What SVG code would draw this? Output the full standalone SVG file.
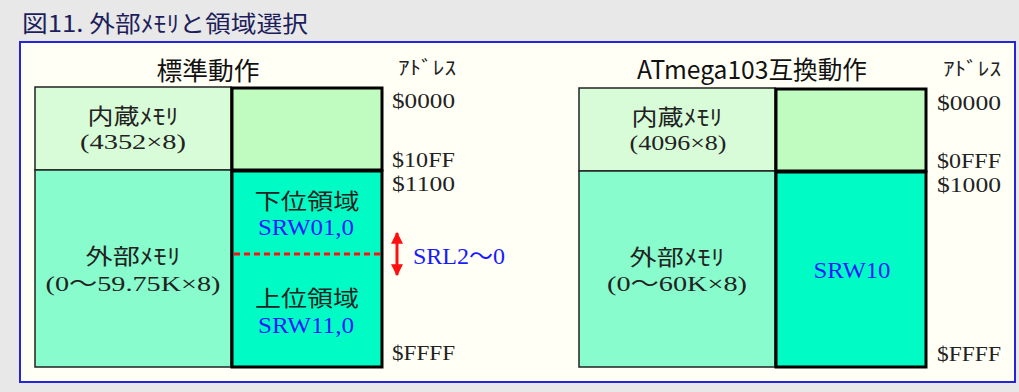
<svg xmlns="http://www.w3.org/2000/svg" width="1019" height="392" viewBox="0 0 1019 392">
<style>
.title{font-family:"Noto Sans CJK JP","Noto Sans",sans-serif;font-size:23px;fill:#1e1e5c}
.head{font-family:"Noto Sans CJK JP","Noto Sans",sans-serif;font-size:25px;fill:#111}
.adrh{font-family:"Liberation Serif","Noto Sans CJK JP",serif;font-size:19px;fill:#222}
.adr{font-family:"Liberation Serif","Noto Sans CJK JP",serif;font-size:22px;fill:#222}
.txt{font-family:"Liberation Serif","Noto Sans CJK JP",serif;font-size:22px;fill:#222;text-anchor:middle}
.blue{font-family:"Liberation Serif","Noto Sans CJK JP",serif;font-size:23px;fill:#1a1aff;text-anchor:middle}
.thin{stroke:#222;stroke-width:1.5}
.thick{stroke:#000;stroke-width:3}
</style>
<defs>
<marker id="ah" viewBox="0 0 10 10" refX="9" refY="5" markerWidth="4" markerHeight="4" orient="auto-start-reverse" markerUnits="strokeWidth">
<path d="M0,0 L10,5 L0,10 z" fill="#ff1010"/>
</marker>
</defs>
<rect x="0" y="0" width="1019" height="392" fill="#e8e8e8"/>
<text class="title" x="22" y="32" textLength="286" lengthAdjust="spacingAndGlyphs">図11. 外部ﾒﾓﾘと領域選択</text>
<rect x="20" y="42" width="995" height="340" fill="#fffff6" stroke="#2424d8" stroke-width="2"/>

<g id="standard">
<text class="head" x="208" y="80" text-anchor="middle" textLength="103" lengthAdjust="spacingAndGlyphs">標準動作</text>
<text class="adrh" x="398" y="75" textLength="58" lengthAdjust="spacingAndGlyphs">ｱﾄﾞﾚｽ</text>
<g id="std-internal">
<rect x="35" y="87" width="196" height="83" fill="#d8fcd8" class="thin"/>
<text class="txt" x="133" y="124" textLength="91" lengthAdjust="spacingAndGlyphs">内蔵ﾒﾓﾘ</text>
<text class="txt" x="133" y="149" textLength="106" lengthAdjust="spacingAndGlyphs">(4352×8)</text>
</g>
<g id="std-external">
<rect x="35" y="170" width="196" height="197" fill="#88fccc" class="thin"/>
<text class="txt" x="133" y="264" textLength="95" lengthAdjust="spacingAndGlyphs">外部ﾒﾓﾘ</text>
<text class="txt" x="133" y="291" textLength="175" lengthAdjust="spacingAndGlyphs">(0〜59.75K×8)</text>
</g>
<g id="std-int-area">
<rect x="232" y="88" width="150" height="82" fill="#c0fcc0" class="thick"/>
</g>
<g id="std-ext-area">
<rect x="232" y="171" width="150" height="196" fill="#00fcc4" class="thick"/>
<text class="txt" x="307" y="209" font-size="24" textLength="105" lengthAdjust="spacingAndGlyphs">下位領域</text>
<text class="blue" x="306" y="235" textLength="96" lengthAdjust="spacingAndGlyphs">SRW01,0</text>
<text class="txt" x="307" y="306" font-size="24" textLength="104" lengthAdjust="spacingAndGlyphs">上位領域</text>
<text class="blue" x="306" y="333" textLength="96" lengthAdjust="spacingAndGlyphs">SRW11,0</text>
</g>
<text class="adr" x="392" y="108" textLength="63" lengthAdjust="spacingAndGlyphs">$0000</text>
<text class="adr" x="392" y="167" textLength="63" lengthAdjust="spacingAndGlyphs">$10FF</text>
<text class="adr" x="392" y="191" textLength="63" lengthAdjust="spacingAndGlyphs">$1100</text>
<text class="adr" x="392" y="360" textLength="63" lengthAdjust="spacingAndGlyphs">$FFFF</text>
<text class="blue" x="459" y="264" textLength="92" lengthAdjust="spacingAndGlyphs">SRL2〜0</text>
</g>

<g id="compat">
<text class="head" x="752" y="79" text-anchor="middle" textLength="230" lengthAdjust="spacingAndGlyphs">ATmega103互換動作</text>
<text class="adrh" x="943" y="76" textLength="58" lengthAdjust="spacingAndGlyphs">ｱﾄﾞﾚｽ</text>
<g id="cmp-internal">
<rect x="579" y="88" width="196" height="83" fill="#d8fcd8" class="thin"/>
<text class="txt" x="677" y="125" textLength="91" lengthAdjust="spacingAndGlyphs">内蔵ﾒﾓﾘ</text>
<text class="txt" x="678" y="150" textLength="97" lengthAdjust="spacingAndGlyphs">(4096×8)</text>
</g>
<g id="cmp-external">
<rect x="579" y="171" width="196" height="196" fill="#88fccc" class="thin"/>
<text class="txt" x="677" y="265" textLength="95" lengthAdjust="spacingAndGlyphs">外部ﾒﾓﾘ</text>
<text class="txt" x="677" y="291" textLength="140" lengthAdjust="spacingAndGlyphs">(0〜60K×8)</text>
</g>
<g id="cmp-int-area">
<rect x="776" y="89" width="150" height="82" fill="#c0fcc0" class="thick"/>
</g>
<g id="cmp-ext-area">
<rect x="776" y="172" width="150" height="195" fill="#00fcc4" class="thick"/>
<text class="blue" x="852" y="278" textLength="77" lengthAdjust="spacingAndGlyphs">SRW10</text>
</g>
<text class="adr" x="937" y="110" textLength="64" lengthAdjust="spacingAndGlyphs">$0000</text>
<text class="adr" x="937" y="168" textLength="64" lengthAdjust="spacingAndGlyphs">$0FFF</text>
<text class="adr" x="937" y="192" textLength="64" lengthAdjust="spacingAndGlyphs">$1000</text>
<text class="adr" x="937" y="361" textLength="64" lengthAdjust="spacingAndGlyphs">$FFFF</text>
</g>

<g id="connectors">
<line x1="234" y1="254" x2="381" y2="254" stroke="#ff1010" stroke-width="3" stroke-dasharray="6,4"/>
<line x1="397" y1="233" x2="397" y2="275" stroke="#ff1010" stroke-width="3" marker-start="url(#ah)" marker-end="url(#ah)"/>
</g>
</svg>
